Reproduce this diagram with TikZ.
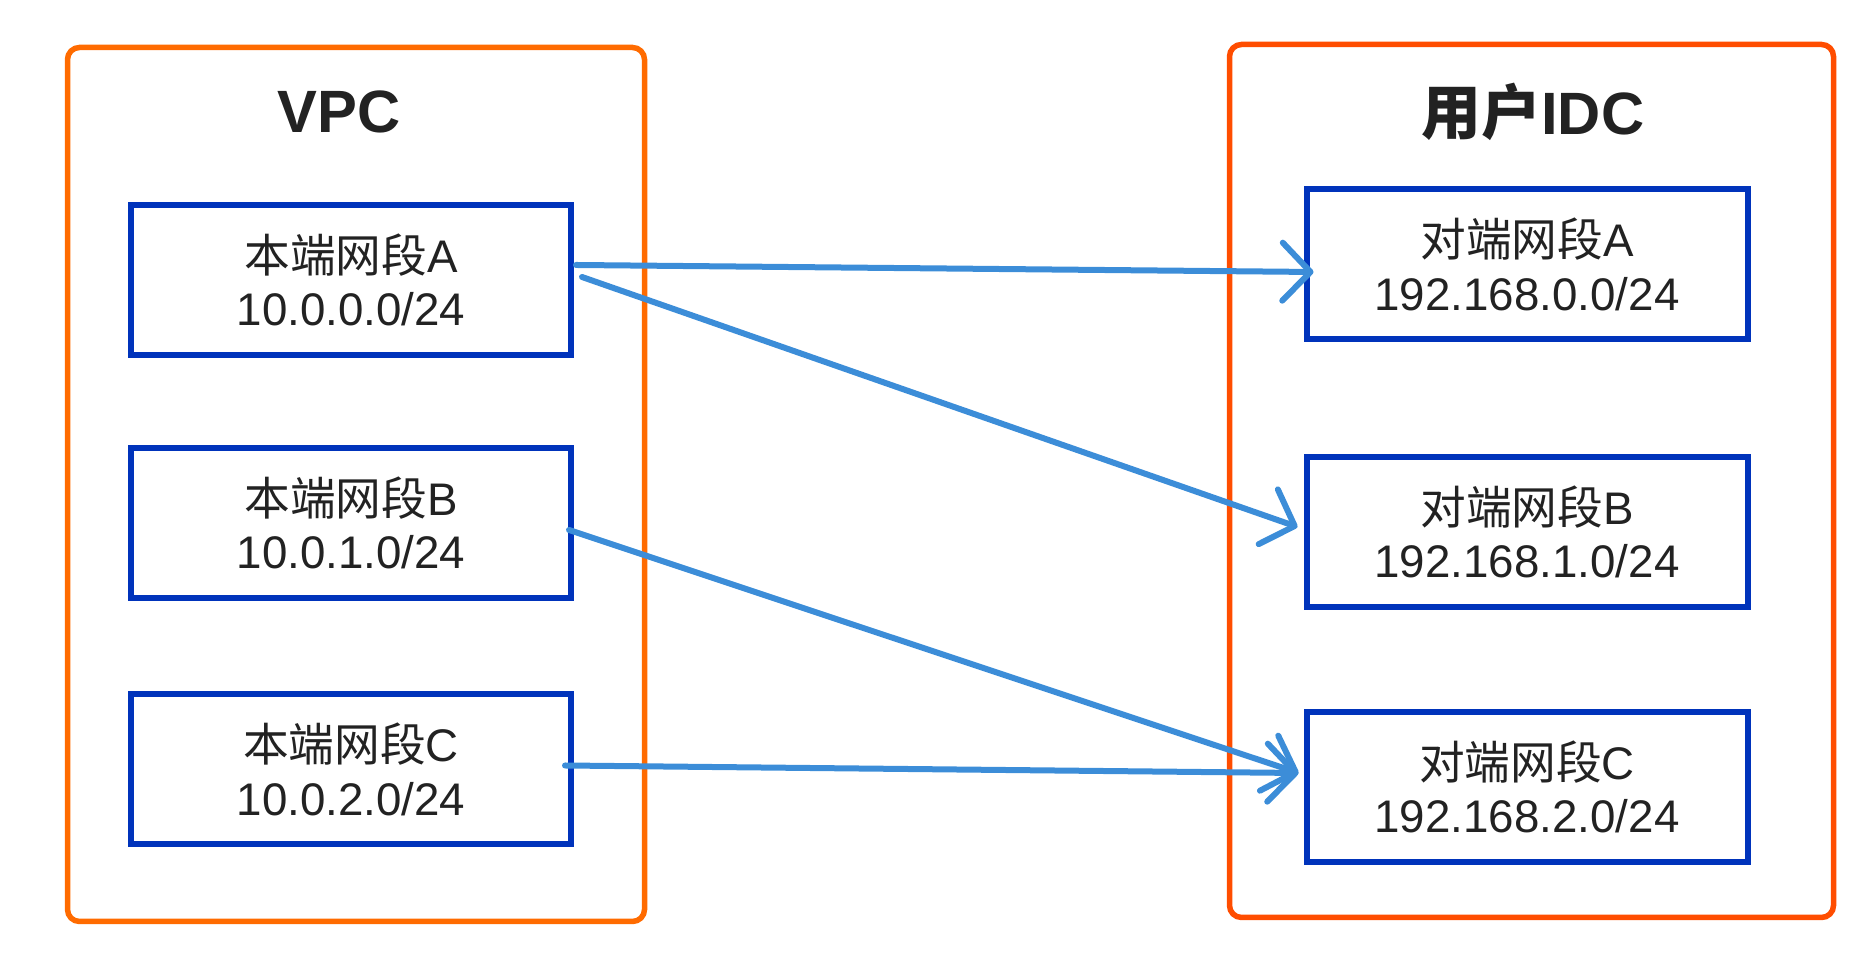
\documentclass[tikz,border=0pt]{standalone}
\usepackage{fontspec}
\setmainfont{Liberation Sans}
\newfontfamily\cjk{Noto Sans CJK SC}
\usetikzlibrary{arrows.meta}
\definecolor{vpcorange}{HTML}{FF6B00}
\definecolor{idcorange}{HTML}{FF4D00}
\definecolor{boxblue}{HTML}{0033BB}
\definecolor{arrowblue}{HTML}{3C8DD8}
\definecolor{txt}{HTML}{222222}
\tikzset{
  container/.style={draw, line width=0.055cm, rounded corners=0.12cm, inner sep=0pt},
  netbox/.style={draw=boxblue, line width=0.06cm, inner sep=0pt, minimum width=4.40cm, minimum height=1.50cm,
    align=center, text=txt, font=\fontsize{13}{15.2}\selectfont},
  title/.style={text=txt, font=\fontsize{17}{20}\selectfont\bfseries, inner sep=0pt},
  link/.style={draw=arrowblue, line width=0.06cm, line cap=round,
    -{Straight Barb[length=0.28cm, width=0.58cm, line cap=round, line join=round]}}
}
\begin{document}
\begin{tikzpicture}
\useasboundingbox (0,0) rectangle (18.66,9.62);
% containers
\node[container, draw=vpcorange, minimum width=5.77cm, minimum height=8.74cm] (vpc) at (3.56,4.775) {};
\node[container, draw=idcorange, minimum width=6.04cm, minimum height=8.73cm] (idc) at (15.315,4.81) {};
% titles
\node[title] (vpct) at (3.39,8.50) {VPC};
\node[title] (idct) at (15.33,8.50) {{\cjk\bfseries 用户}IDC};
% VPC boxes
\node[netbox] (vA) at (3.51,6.82) {{\cjk 本端网段}A\\10.0.0.0/24};
\node[netbox] (vB) at (3.51,4.39) {{\cjk 本端网段}B\\10.0.1.0/24};
\node[netbox] (vC) at (3.51,1.925) {{\cjk 本端网段}C\\10.0.2.0/24};
% IDC boxes
\node[netbox, minimum width=4.41cm] (iA) at (15.27,6.975) {{\cjk 对端网段}A\\192.168.0.0/24};
\node[netbox, minimum width=4.41cm] (iB) at (15.27,4.30) {{\cjk 对端网段}B\\192.168.1.0/24};
\node[netbox, minimum width=4.41cm] (iC) at (15.27,1.75) {{\cjk 对端网段}C\\192.168.2.0/24};
% connectors
\draw[link] ([xshift=0.02cm,yshift=0.15cm]vA.east) -- ([xshift=0.10cm,yshift=-0.075cm]iA.west);
\draw[link] ([xshift=0.08cm,yshift=0.03cm]vA.east) -- ([xshift=-0.06cm,yshift=0.05cm]iB.west);
\draw[link] ([xshift=-0.05cm,yshift=-0.07cm]vB.east) -- ([xshift=-0.05cm,yshift=0.14cm]iC.west);
\draw[link] ([xshift=-0.09cm,yshift=0.04cm]vC.east) -- ([xshift=-0.05cm,yshift=0.14cm]iC.west);
\end{tikzpicture}
\end{document}
